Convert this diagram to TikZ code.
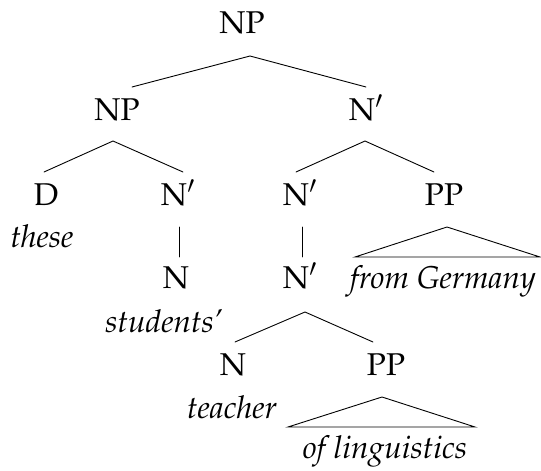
\documentclass[tikz,border=0pt]{standalone}
\usepackage[T1]{fontenc}
\usepackage{mathpazo}
\begin{document}
\begin{tikzpicture}[x=1pt,y=-1pt,
  cat/.style={anchor=base, inner sep=0pt, font=\fontsize{31.5}{38}\selectfont\upshape},
  wd/.style={anchor=base, inner sep=0pt, font=\fontsize{31.5}{38}\selectfont\itshape},
  edge/.style={line width=0.9pt, line cap=round, line join=miter}]
\useasboundingbox (0,0) rectangle (541,471);
\node[cat] (np0) at (242,33) {NP};
\node[cat] (np1) at (117,120) {NP};
\node[cat] (nb1) at (366,120) {N$'$};
\node[cat] (d) at (46,205) {D};
\node[cat] (nb2) at (178,205) {N$'$};
\node[cat] (nb3) at (300,205) {N$'$};
\node[cat] (pp1) at (444,205) {PP};
\node[wd] (these) at (42,247) {these};
\node[cat] (n1) at (176,288) {N};
\node[cat] (nb4) at (300,288) {N$'$};
\node[wd] (fg) at (443,288) {from Germany};
\node[wd] (students) at (164,332) {students'};
\node[cat] (n2) at (233,375) {N};
\node[cat] (pp2) at (386,375) {PP};
\node[wd] (teacher) at (232,418) {teacher};
\node[wd] (ol) at (385,458) {of linguistics};
% top
\draw[edge] ([shift={(15,-33)}]np1.base) -- ([shift={(8,23)}]np0.base) -- ([shift={(0,-33)}]nb1.base);
\draw[edge] ([shift={(-2,-33)}]d.base) -- ([shift={(-4,21)}]np1.base) -- ([shift={(5,-33)}]nb2.base);
\draw[edge] ([shift={(-4,-33)}]nb3.base) -- ([shift={(-1,21)}]nb1.base) -- ([shift={(-10,-33)}]pp1.base);
\draw[edge] ([shift={(1,22)}]nb2.base) -- ([shift={(3,-31)}]n1.base);
\draw[edge] ([shift={(2,22)}]nb3.base) -- ([shift={(2,-31)}]nb4.base);
\draw[edge] ([shift={(-88,-31)}]fg.base) -- ([shift={(3,22)}]pp1.base) -- ([shift={(97,-31)}]fg.base) -- cycle;
\draw[edge] ([shift={(2,-33)}]n2.base) -- ([shift={(5,24)}]nb4.base) -- ([shift={(-13,-33)}]pp2.base);
\draw[edge] ([shift={(-97,-31)}]ol.base) -- ([shift={(-4,22)}]pp2.base) -- ([shift={(90,-31)}]ol.base) -- cycle;
\end{tikzpicture}
\end{document}
